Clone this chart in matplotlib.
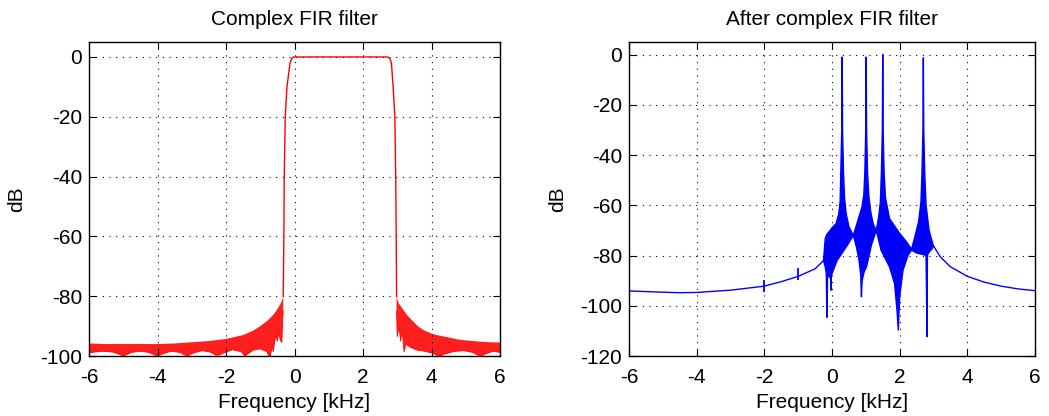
import numpy as np
import matplotlib
matplotlib.use("Agg")
import matplotlib.pyplot as plt

# --- Left panel: complex FIR filter response (kHz, dB) ---
pass_f = [-0.33, -0.31, -0.30, -0.27, -0.22, -0.13, -0.08, -0.03,
          2.72, 2.78, 2.83, 2.88, 2.93, 2.955, 2.97, 2.98]
pass_db = [-80, -60, -40, -20, -10, -2, -0.5, 0,
           0, -0.5, -2, -10, -20, -40, -60, -80]

# stopband ripple band: upper and lower envelopes
lstop_top_f = [-6.0, -5.5, -5.0, -4.5, -4.0, -3.5, -3.0, -2.5, -2.0, -1.5,
               -1.2, -1.0, -0.8, -0.6, -0.5, -0.4, -0.33]
lstop_top_db = [-95.8, -96.0, -96.0, -96.0, -96.0, -95.8, -95.4, -95.0, -94.3, -93.0,
                -91.5, -90.0, -88.3, -86.0, -84.3, -82.4, -80.3]
lstop_bot_f = [-6.0, -5.85, -5.6, -5.3, -5.1, -5.0, -4.9, -4.75, -4.5, -4.25,
               -4.1, -4.0, -3.85, -3.6, -3.35, -3.2, -3.1, -2.95, -2.7, -2.45,
               -2.3, -2.2, -2.05, -1.8, -1.55, -1.45, -1.35, -1.2, -1.0, -0.8,
               -0.72, -0.65, -0.62, -0.55, -0.5, -0.46, -0.42, -0.37, -0.35, -0.33]
lstop_bot_db = [-99.0, -98.7, -98.4, -98.7, -99.5, -100, -99.5, -98.8, -98.4, -98.8,
                -99.6, -100, -99.3, -98.4, -98.8, -99.7, -99.8, -99.0, -98.2, -98.7,
                -99.7, -99.7, -98.9, -97.9, -98.6, -100, -99.2, -98.0, -97.6, -98.6,
                -101, -96.5, -98.5, -93, -95, -92, -94.5, -95.5, -89, -85]

rstop_top_f = [2.98, 3.05, 3.18, 3.3, 3.47, 3.6, 3.76, 4.0, 4.15, 4.5,
               4.74, 5.0, 5.42, 5.7, 6.0]
rstop_top_db = [-80.3, -82.5, -84.6, -86.5, -88.5, -90.0, -91.3, -92.5, -93.0, -93.8,
                -94.4, -94.8, -95.2, -95.4, -95.5]
rstop_bot_f = [2.98, 3.0, 3.05, 3.10, 3.14, 3.20, 3.25, 3.37, 3.57, 3.8,
               4.0, 4.15, 4.25, 4.4, 4.65, 4.95, 5.2, 5.35, 5.45, 5.6,
               5.8, 6.0]
rstop_bot_db = [-85, -93.5, -90, -95, -91, -98.6, -96, -97, -98, -98.4,
                -99.0, -99.7, -100, -99.3, -98.5, -98.2, -98.8, -99.7, -100, -99.2,
                -98.4, -98.8]

# --- Right panel: spectrum after the filter ---
base_left_f = [-6, -5, -4.5, -4, -3, -2, -1.5, -1, -0.5, -0.25]
base_left_db = [-94.1, -94.6, -94.8, -94.7, -93.8, -92.2, -90.4, -88.3, -85.3, -82.0]
base_right_f = [3.0, 3.2, 3.5, 3.78, 4.0, 4.5, 5.0, 5.5, 6.0]
base_right_db = [-76.2, -80.5, -84.5, -86.6, -88.3, -90.6, -92.2, -93.3, -94.0]

spur_f = [-2.0, -1.0]
spur_lo = [-94.6, -89.8]
spur_hi = [-89.7, -84.9]

dense_top_f = [-0.25, -0.20, -0.15, -0.09, 0.0, 0.12, 0.2, 0.24, 0.26, 0.288,
               0.30, 0.312, 0.34, 0.37, 0.42, 0.50, 0.63, 0.77, 0.88, 0.94,
               0.97, 0.998, 1.01, 1.022, 1.05, 1.09, 1.15, 1.22, 1.31, 1.38,
               1.43, 1.46, 1.488, 1.50, 1.512, 1.54, 1.58, 1.70, 2.0, 2.2,
               2.35, 2.45, 2.56, 2.63, 2.66, 2.688, 2.70, 2.712, 2.74, 2.78,
               2.87, 2.95, 3.0]
dense_top_db = [-82.0, -73.2, -71.5, -70.6, -69.0, -67.3, -63.5, -58.5, -47, -30,
                -1.0, -30, -47, -57.0, -63.5, -68.5, -72.0, -65.8, -61.0, -56.0,
                -47, -30, -1.0, -30, -47, -56.5, -63.0, -67.5, -70.0, -64.5,
                -58.5, -47, -30, 0.0, -30, -47, -57.0, -65.3, -71.2, -74.5,
                -77.5, -72.5, -66.5, -58.5, -47, -30, -1.3, -30, -47, -60.0,
                -70.0, -74.0, -76.2]
dense_bot_f = [-0.25, -0.20, -0.17, -0.15, -0.13, -0.08, -0.04, -0.03, -0.02, 0.05,
               0.15, 0.30, 0.45, 0.63, 0.72, 0.80, 0.85, 0.87, 0.89, 0.95,
               1.02, 1.17, 1.31, 1.45, 1.70, 1.85, 1.92, 1.96, 2.0, 2.1,
               2.25, 2.35, 2.5, 2.66, 2.78, 2.81, 2.82, 2.83, 2.88, 2.95,
               3.0]
dense_bot_db = [-82.0, -84.5, -87.0, -104.6, -87.5, -88.5, -89.0, -93.8, -88.0, -85.5,
                -82.0, -79.0, -76.0, -72.0, -76.5, -82.0, -88.0, -96.4, -90.0, -86.5,
                -84.5, -75.6, -70.0, -77.9, -84.5, -91.2, -101.7, -109.7, -96.4, -85.8,
                -79.8, -77.9, -79.0, -79.5, -80.0, -112.3, -81.0, -79.5, -78.5, -77.5,
                -76.2]

plt.rcParams['font.family'] = ['Liberation Sans', 'DejaVu Sans']
plt.rcParams['axes.unicode_minus'] = False
FS = 15
RED = '#ff0000'
BLUE = '#0000ff'

fig = plt.figure(figsize=(10.49, 4.16), dpi=100)
ax1 = fig.add_axes([89 / 1049, 1 - 356 / 416, 411 / 1049, 314 / 416])
ax2 = fig.add_axes([629 / 1049, 1 - 356 / 416, 406 / 1049, 314 / 416])


def style_axes(ax, yticks, ylim):
    ax.set_xlim(-6, 6)
    ax.set_ylim(*ylim)
    ax.set_xticks(np.arange(-6, 7, 2))
    ax.set_yticks(yticks)
    ax.grid(True, color='black', linestyle=(0, (1, 5)), linewidth=0.8)
    ax.tick_params(direction='in', top=True, right=True, length=5, width=0.8,
                   labelsize=FS, colors='black')
    ax.tick_params(axis='x', pad=8.5)
    ax.tick_params(axis='y', pad=5)
    for s in ax.spines.values():
        s.set_linewidth(1.0)
    ax.set_xlabel("Frequency [kHz]", fontsize=FS)
    ax.set_ylabel("dB", fontsize=FS)
    ax.xaxis.set_label_coords(0.5, -0.118)


# left panel
style_axes(ax1, np.arange(-100, 1, 20), (-100, 5))
ax1.fill(np.r_[lstop_top_f, lstop_bot_f[::-1]], np.r_[lstop_top_db, lstop_bot_db[::-1]],
         color=RED, alpha=0.88, lw=0)
ax1.fill(np.r_[rstop_top_f, rstop_bot_f[::-1]], np.r_[rstop_top_db, rstop_bot_db[::-1]],
         color=RED, alpha=0.88, lw=0)
ax1.plot(lstop_bot_f, lstop_bot_db, color=RED, lw=0.6)
ax1.plot(rstop_bot_f, rstop_bot_db, color=RED, lw=0.6)
ax1.plot(pass_f, pass_db, color=RED, lw=1.0)
ax1.set_title("Complex FIR filter", fontsize=FS, pad=12)
ax1.yaxis.set_label_coords(-0.152, 0.5)

# right panel
style_axes(ax2, np.arange(-120, 1, 20), (-120, 5))
ax2.plot(base_left_f, base_left_db, color=BLUE, lw=1.0)
ax2.plot(base_right_f, base_right_db, color=BLUE, lw=1.0)
ax2.vlines(spur_f, spur_lo, spur_hi, color=BLUE, lw=1.3)
ax2.fill(np.r_[dense_top_f, dense_bot_f[::-1]], np.r_[dense_top_db, dense_bot_db[::-1]],
         color=BLUE, lw=0)
ax2.plot(dense_top_f, dense_top_db, color=BLUE, lw=1.0)
ax2.plot(dense_bot_f, dense_bot_db, color=BLUE, lw=1.0)
ax2.set_title("After complex FIR filter", fontsize=FS, pad=12)
ax2.yaxis.set_label_coords(-0.153, 0.5)

fig.savefig("out.png", dpi=100)
